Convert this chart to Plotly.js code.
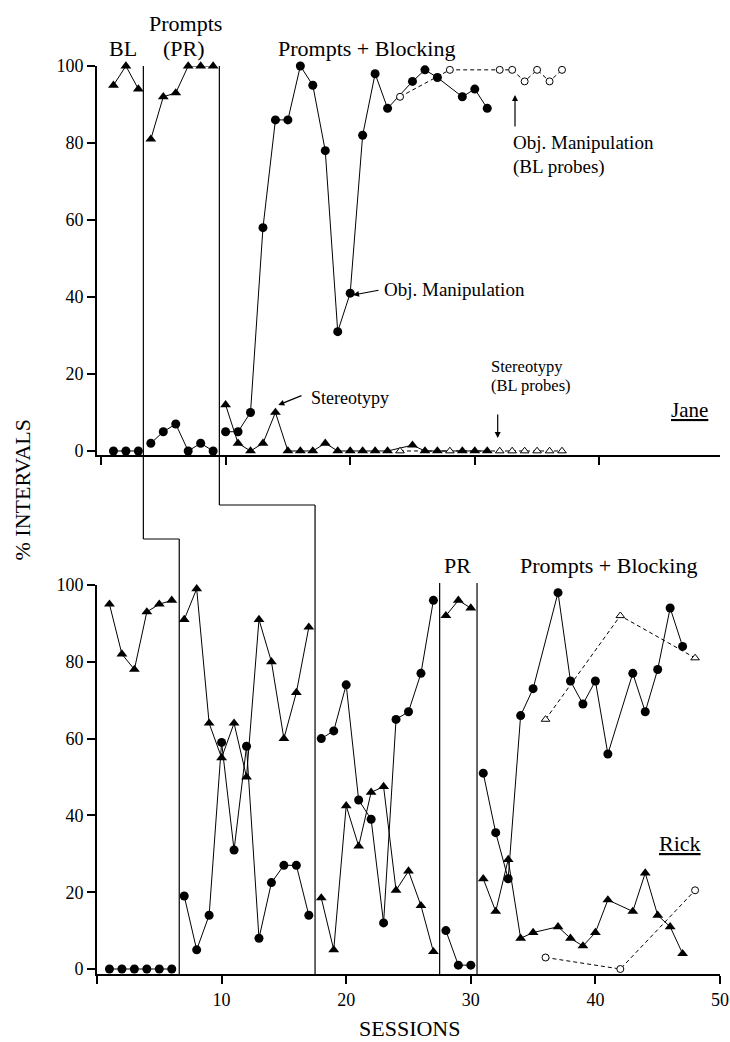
<!DOCTYPE html>
<html><head><meta charset="utf-8">
<script src="https://cdn.plot.ly/plotly-3.0.1.min.js"></script>
<style>body{margin:0;background:#fff}</style>
</head><body><div id="chart" style="width:730px;height:1042px"></div>
<script>
// ---------- Jane (top panel) ----------
const janeSessBL = [1,2,3];
const janeObjBL = [0,0,0];
const janeStereoBL = [95,100,94];
const janeSessPR = [4,5,6,7,8,9];
const janeObjPR = [2,5,7,0,2,0];
const janeStereoPR = [81,92,93,100,100,100];
const janeSessPB = [10,11,12,13,14,15,16,17,18,19,20,21,22,23,25,26,27,29,30,31];
const janeObjPB = [5,5,10,58,86,86,100,95,78,31,41,82,98,89,96,99,97,92,94,89];
const janeStereoPB = [12,2,0,2,10,0,0,0,2,0,0,0,0,0,1.5,0,0,0,0,0];
const janeSessProbe = [24,28,32,33,34,35,36,37];
const janeObjProbe = [92,99,99,99,96,99,96,99];
const janeStereoProbe = [0,0,0,0,0,0,0,0];

// ---------- Rick (bottom panel) ----------
const rickSessBL = [1,2,3,4,5,6];
const rickObjBL = [0,0,0,0,0,0];
const rickStereoBL = [95,82,78,93,95,96];
const rickSessP2 = [7,8,9,10,11,12,13,14,15,16,17];
const rickObjP2 = [19,5,14,59,31,58,8,22.5,27,27,14];
const rickStereoP2 = [91,99,64,55,64,50,91,80,60,72,89];
const rickSessP3 = [18,19,20,21,22,23,24,25,26,27];
const rickObjP3 = [60,62,74,44,39,12,65,67,77,96];
const rickStereoP3 = [18.5,5,42.5,32,46,47.5,20.5,25.5,16.5,4.5];
const rickSessPR = [28,29,30];
const rickObjPR = [10,1,1];
const rickStereoPR = [92,96,94];
const rickSessPB = [31,32,33,34,35,37,38,39,40,41,43,44,45,46,47];
const rickObjPB = [51,35.5,23.5,66,73,98,75,69,75,56,77,67,78,94,84];
const rickStereoPB = [23.5,15,28.5,8,9.5,11,8,6,9.5,18,15,25,14,11,4];
const rickSessProbe = [36,42,48];
const rickObjProbe = [3,0,20.5];
const rickStereoProbe = [65,92,81];

// phase-change positions (sessions)
const janePhaseLines = [3.4, 9.5];
const rickPhaseLines = [6.6, 17.5, 27.5, 30.5];

const yTicks = [0,20,40,60,80,100];
const xTicks = [0,10,20,30,40,50];
const xTickText = ['','10','20','30','40','50'];

// ---------- geometry helpers (pixel -> paper) ----------
const ML = 97, MR = 10, MT = 10, MB = 68, W = 730, H = 1042;
const PW = W - ML - MR, PH = H - MT - MB;
const X = px => (px - ML) / PW;
const P = py => (H - MB - py) / PH;
const topShift = 0.32;

const FONT = 'Liberation Serif, Times New Roman, serif';
const line = {color:'black', width:1};
const dashLine = {color:'black', width:1, dash:'4px,3px'};
const mFillCircle = {symbol:'circle', size:9, color:'black'};
const mFillTri = {symbol:'triangle-up', size:9.5, color:'black'};
const mOpenCircle = {symbol:'circle', size:7, color:'white', line:{color:'black', width:1}};
const mOpenTri = {symbol:'triangle-up', size:7.5, color:'white', line:{color:'black', width:1}};

function tr(x, y, marker, ln, ax) {
  return {x:x, y:y, type:'scatter', mode:'lines+markers', line:ln, marker:marker,
          xaxis: ax === 2 ? 'x2' : 'x', yaxis: ax === 2 ? 'y2' : 'y',
          cliponaxis:false, hoverinfo:'skip', showlegend:false};
}

const traces = [
  // Jane stereotypy
  tr(janeSessBL, janeStereoBL, mFillTri, line, 1),
  tr(janeSessPR, janeStereoPR, mFillTri, line, 1),
  tr(janeSessPB, janeStereoPB, mFillTri, line, 1),
  // Jane object manipulation
  tr(janeSessBL, janeObjBL, mFillCircle, line, 1),
  tr(janeSessPR, janeObjPR, mFillCircle, line, 1),
  tr(janeSessPB, janeObjPB, mFillCircle, line, 1),
  // Jane probes
  tr(janeSessProbe, janeStereoProbe, mOpenTri, dashLine, 1),
  tr(janeSessProbe, janeObjProbe, mOpenCircle, dashLine, 1),
  // Rick stereotypy
  tr(rickSessBL, rickStereoBL, mFillTri, line, 2),
  tr(rickSessP2, rickStereoP2, mFillTri, line, 2),
  tr(rickSessP3, rickStereoP3, mFillTri, line, 2),
  tr(rickSessPR, rickStereoPR, mFillTri, line, 2),
  tr(rickSessPB, rickStereoPB, mFillTri, line, 2),
  // Rick object manipulation
  tr(rickSessBL, rickObjBL, mFillCircle, line, 2),
  tr(rickSessP2, rickObjP2, mFillCircle, line, 2),
  tr(rickSessP3, rickObjP3, mFillCircle, line, 2),
  tr(rickSessPR, rickObjPR, mFillCircle, line, 2),
  tr(rickSessPB, rickObjPB, mFillCircle, line, 2),
  // Rick probes
  tr(rickSessProbe, rickStereoProbe, mOpenTri, dashLine, 2),
  tr(rickSessProbe, rickObjProbe, mOpenCircle, dashLine, 2)
];

const phaseLn = {color:'black', width:1.2};
const stepY = [P(539), P(505)];
const shapes = [];
janePhaseLines.forEach((s, i) => {
  const target = rickPhaseLines[i];
  shapes.push({type:'line', xref:'x', yref:'paper', x0:s, x1:s, y0:P(66), y1:stepY[i], line:phaseLn});
  shapes.push({type:'line', xref:'x2', yref:'paper', x0:s + topShift, x1:target, y0:stepY[i], y1:stepY[i], line:phaseLn});
  shapes.push({type:'line', xref:'x2', yref:'paper', x0:target, x1:target, y0:stepY[i], y1:0, line:phaseLn});
});
rickPhaseLines.slice(2).forEach(s => {
  shapes.push({type:'line', xref:'x2', yref:'paper', x0:s, x1:s, y0:P(583), y1:0, line:phaseLn});
});

function txt(t, px, py, size, xanchor, extra) {
  return Object.assign({text:t, xref:'paper', yref:'paper', x:X(px), y:P(py), showarrow:false,
    xanchor:xanchor || 'center', yanchor:'middle', borderpad:0,
    font:{family:FONT, size:size, color:'black'}}, extra || {});
}
function arrow(hx, hy, tx, ty) {
  return {text:'', xref:'paper', yref:'paper', x:X(hx), y:P(hy), ax:tx - hx, ay:ty - hy,
    showarrow:true, arrowhead:2, arrowsize:1, arrowwidth:1.2, arrowcolor:'black', standoff:0};
}

const annotations = [
  txt('BL', 122.5, 48.5, 22),
  txt('Prompts', 185.7, 24, 22),
  txt('(PR)', 184.3, 48.5, 22),
  txt('Prompts + Blocking', 366.5, 48.5, 22),
  txt('PR', 457, 565.5, 22),
  txt('Prompts + Blocking', 608.5, 565.5, 22),
  txt('Obj. Manipulation', 383, 290, 19, 'left'),
  arrow(353, 295, 380, 290),
  txt('Stereotypy', 310, 398, 18, 'left'),
  arrow(278.3, 405, 303, 395),
  txt('Obj. Manipulation', 511.7, 143, 19, 'left'),
  txt('(BL probes)', 511.7, 167, 19, 'left'),
  arrow(515, 95, 515, 128),
  txt('Stereotypy', 490, 366, 16.5, 'left'),
  txt('(BL probes)', 490, 386, 16.5, 'left'),
  arrow(497.7, 438, 497.7, 413),
  txt('<u>Jane</u>', 689, 410, 21),
  txt('<u>Rick</u>', 680, 843, 22),
  txt('% INTERVALS', 21.5, 490, 22, 'center', {textangle:-90}),
  txt('SESSIONS', 409, 1028, 22)
];

const axX = {showline:true, linewidth:2, linecolor:'black', ticks:'outside', ticklen:8, tickwidth:2,
  tickcolor:'black', showgrid:false, zeroline:false, tickvals:xTicks, fixedrange:true};
const axY = {showline:true, linewidth:2, linecolor:'black', ticks:'outside', ticklen:8, tickwidth:2,
  tickcolor:'black', showgrid:false, zeroline:false, tickvals:yTicks, fixedrange:true,
  tickfont:{family:FONT, size:18, color:'black'}};

const layout = {
  width:W, height:H, margin:{l:ML, r:MR, t:MT, b:MB},
  paper_bgcolor:'white', plot_bgcolor:'white', showlegend:false,
  font:{family:FONT, size:18, color:'black'},
  xaxis:Object.assign({}, axX, {domain:[0,1], anchor:'y', range:[-topShift, 50 - topShift], showticklabels:false}),
  yaxis:Object.assign({}, axY, {domain:[P(455.2), P(66)], anchor:'x', range:[-1.1, 100]}),
  xaxis2:Object.assign({}, axX, {domain:[0,1], anchor:'y2', range:[0,50], ticktext:xTickText,
    tickfont:{family:FONT, size:18, color:'black'}}),
  yaxis2:Object.assign({}, axY, {domain:[0, P(585)], anchor:'x2', range:[-1.3, 100]}),
  shapes:shapes, annotations:annotations
};

Plotly.newPlot('chart', traces, layout, {staticPlot:true, displayModeBar:false});
</script>
</body></html>
